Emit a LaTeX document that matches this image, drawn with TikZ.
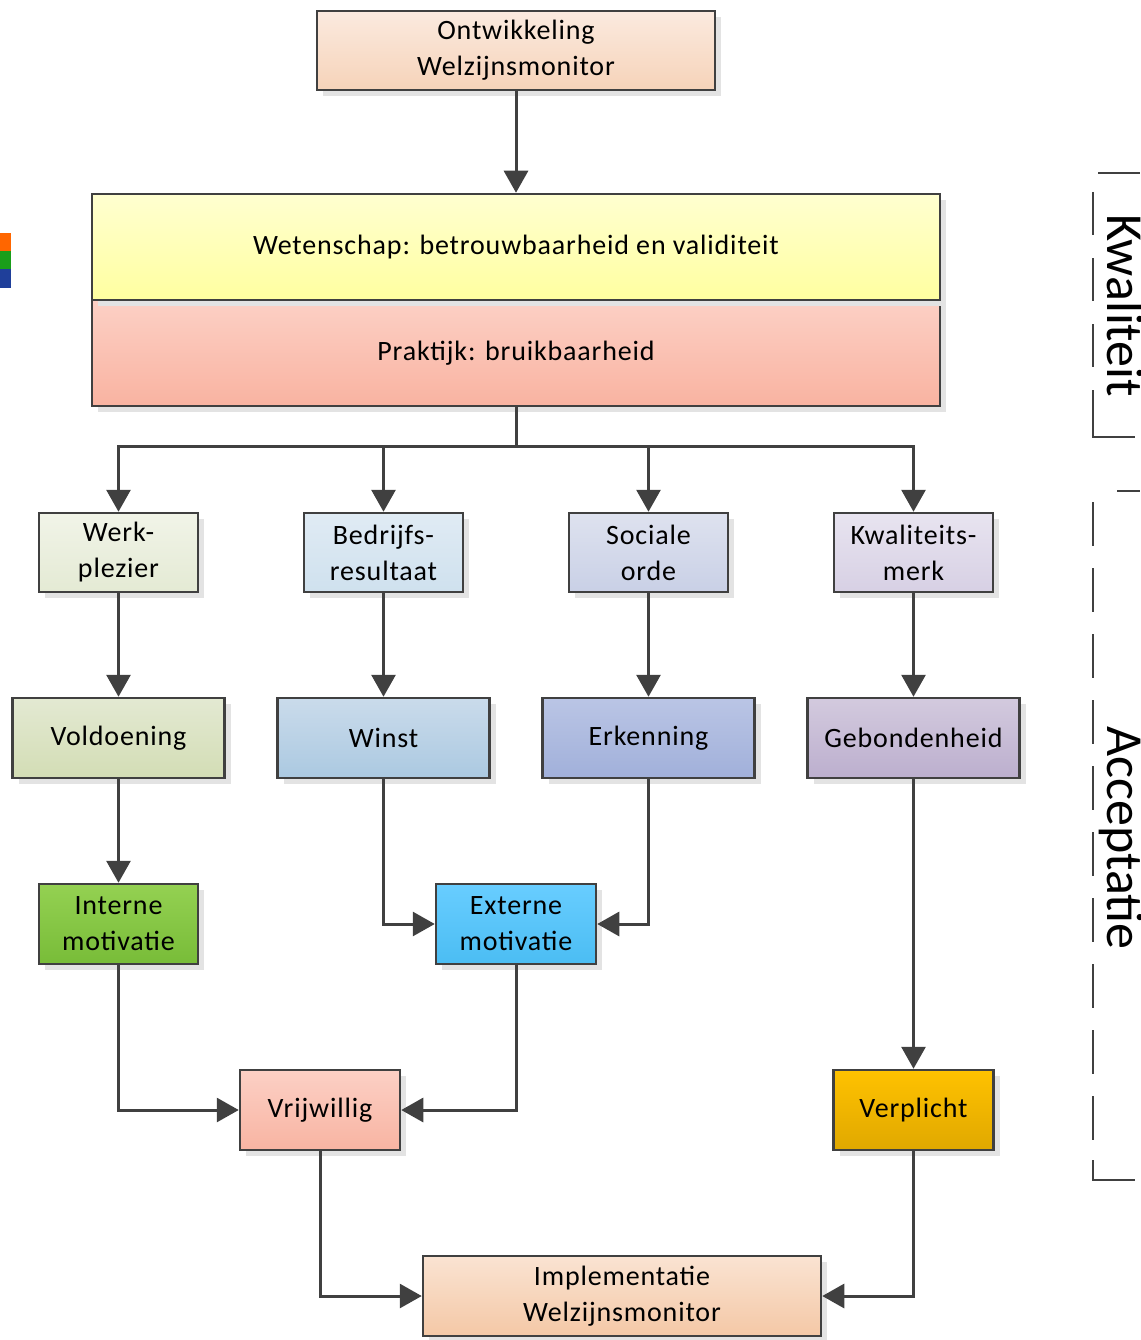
\documentclass[tikz,border=0pt]{standalone}
\usepackage{fontspec}
\setmainfont{Carlito}
\newfontfamily\boxfont[LetterSpace=3]{Carlito}
\usetikzlibrary{arrows.meta,shadows,calc}
\definecolor{lc}{HTML}{404040}
\definecolor{ontT}{HTML}{FBEADF}\definecolor{ontB}{HTML}{F6D3B9}
\definecolor{wetT}{HTML}{FFFFD0}\definecolor{wetB}{HTML}{FFFFA0}
\definecolor{praT}{HTML}{FCD0C5}\definecolor{praB}{HTML}{F9B3A1}
\definecolor{werT}{HTML}{F1F4E8}\definecolor{werB}{HTML}{E4EAD4}
\definecolor{bedT}{HTML}{E0EBF4}\definecolor{bedB}{HTML}{CFE1EE}
\definecolor{socT}{HTML}{DEE2EF}\definecolor{socB}{HTML}{C9D0E6}
\definecolor{kwaT}{HTML}{E8E4F0}\definecolor{kwaB}{HTML}{D7D0E4}
\definecolor{volT}{HTML}{E3E9D2}\definecolor{volB}{HTML}{D3DDB5}
\definecolor{winT}{HTML}{CADBEB}\definecolor{winB}{HTML}{ABC9E1}
\definecolor{erkT}{HTML}{BAC5E5}\definecolor{erkB}{HTML}{A1B0DA}
\definecolor{gebT}{HTML}{D3CADE}\definecolor{gebB}{HTML}{BCAFCE}
\definecolor{intT}{HTML}{94D152}\definecolor{intB}{HTML}{78BC38}
\definecolor{extT}{HTML}{68CDFF}\definecolor{extB}{HTML}{4BBDF3}
\definecolor{vriT}{HTML}{FCD0C5}\definecolor{vriB}{HTML}{F8B4A2}
\definecolor{verT}{HTML}{FFC200}\definecolor{verB}{HTML}{E0A800}
\definecolor{impT}{HTML}{FAE3D2}\definecolor{impB}{HTML}{F4C8A6}
\definecolor{barO}{HTML}{FF6600}\definecolor{barG}{HTML}{1A9E1A}\definecolor{barB}{HTML}{1F3F9A}
\tikzset{
  box/.style={draw=lc, line width=2.5pt, rectangle, inner sep=0pt, align=center,
    font=\boxfont\fontsize{28}{36}\selectfont,
    drop shadow={shadow xshift=6pt, shadow yshift=-6pt, fill=black!11, opacity=1}},
  gr/.style={top color=#1T, bottom color=#1B},
  conn/.style={draw=lc, line width=3pt},
  arr/.style={conn, -{Triangle[length=22pt,width=24pt]}},
  brk/.style={draw=lc, line width=2.5pt},
  side/.style={rotate=-90, anchor=base, font=\fontsize{52}{60}\selectfont, inner sep=0pt}
}
\begin{document}
\begin{tikzpicture}[x=1pt,y=-1pt]
\useasboundingbox (0,0) rectangle (1140,1340);
% colour bars
\fill[barO] (0,233) rectangle (11,251);
\fill[barG] (0,251) rectangle (11,269);
\fill[barB] (0,269) rectangle (11,288);
% nodes
\node[box, gr=ont, minimum width=398pt, minimum height=79pt] (ont) at (516,50.5) {Ontwikkeling\\Welzijnsmonitor};
\node[box, gr=pra, minimum width=848pt, minimum height=106pt] (pra) at (516,353) {Praktijk: bruikbaarheid};
\node[box, gr=wet, minimum width=848pt, minimum height=106pt] (wet) at (516,247) {Wetenschap: betrouwbaarheid en validiteit};
\node[box, gr=wer, minimum width=159pt, minimum height=79pt] (wer) at (118.5,552.5) {Werk-\\plezier};
\node[box, gr=bed, minimum width=159pt, minimum height=79pt] (bed) at (383.5,552.5) {Bedrijfs-\\resultaat};
\node[box, gr=soc, minimum width=159pt, minimum height=79pt] (soc) at (648.5,552.5) {Sociale\\orde};
\node[box, gr=kwa, minimum width=159pt, minimum height=79pt] (kwa) at (913.5,552.5) {Kwaliteits-\\merk};
\node[box, gr=vol, minimum width=212pt, minimum height=80pt] (vol) at (118.5,738) {Voldoening};
\node[box, gr=win, minimum width=212pt, minimum height=80pt] (win) at (383.5,738) {Winst};
\node[box, gr=erk, minimum width=212pt, minimum height=80pt] (erk) at (648.5,738) {Erkenning};
\node[box, gr=geb, minimum width=212pt, minimum height=80pt] (geb) at (913.5,738) {Gebondenheid};
\node[box, gr=int, minimum width=159pt, minimum height=80pt] (int) at (118.5,924) {Interne\\motivatie};
\node[box, gr=ext, minimum width=160pt, minimum height=80pt] (ext) at (516,924) {Externe\\motivatie};
\node[box, gr=vri, minimum width=160pt, minimum height=80pt] (vri) at (320,1110) {Vrijwillig};
\node[box, gr=ver, minimum width=160pt, minimum height=80pt] (ver) at (913.5,1110) {Verplicht};
\node[box, gr=imp, minimum width=398pt, minimum height=80pt] (imp) at (622,1296) {Implementatie\\Welzijnsmonitor};
% connectors
\draw[arr] (ont.south) -- (wet.north);
\coordinate (bus) at (516,446);
\draw[conn] (pra.south) -- (bus);
\draw[arr] (bus) -| (wer.north);
\draw[arr] (bus) -| (bed.north);
\draw[arr] (bus) -| (soc.north);
\draw[arr] (bus) -| (kwa.north);
\draw[arr] (wer.south) -- (vol.north);
\draw[arr] (bed.south) -- (win.north);
\draw[arr] (soc.south) -- (erk.north);
\draw[arr] (kwa.south) -- (geb.north);
\draw[arr] (vol.south) -- (int.north);
\draw[arr] (win.south) |- (ext.west);
\draw[arr] (erk.south) |- (ext.east);
\draw[arr] (geb.south) -- (ver.north);
\draw[arr] (int.south) |- (vri.west);
\draw[arr] (ext.south) |- (vri.east);
\draw[arr] (vri.south) |- (imp.west);
\draw[arr] (ver.south) |- (imp.east);
% side brackets
\draw[brk] (1098,173) -- (1140,173);
\draw[brk, dash pattern=on 43pt off 23pt] (1093,192) -- (1093,437);
\draw[brk] (1093,416) -- (1093,437) -- (1135,437);
\node[side] (kwal) at (1107,306) {Kwaliteit};
\draw[brk] (1117,491) -- (1140,491);
\draw[brk, dash pattern=on 44pt off 22pt] (1093,502) -- (1093,1180);
\draw[brk] (1093,1160) -- (1093,1180) -- (1135,1180);
\node[side] (acc) at (1107,838) {Acceptatie};
\end{tikzpicture}
\end{document}
